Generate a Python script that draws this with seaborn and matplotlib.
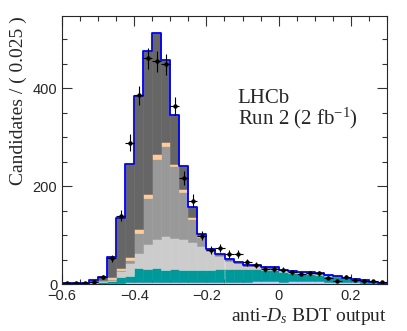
import numpy as np
import pandas as pd
import matplotlib
matplotlib.use("Agg")
import matplotlib.pyplot as plt
from matplotlib.ticker import MultipleLocator
import seaborn as sns

# Bin setup: anti-Ds BDT output, 0.025 wide bins from -0.6 to 0.3
bin_lo, bin_hi, bin_w = -0.6, 0.3, 0.025

# Stacked template components (candidates per bin), bottom to top
olive = [0, 0, 0, 0, 0, 0, 0, 1, 1, 1, 1, 1, 1, 1, 1, 0, 1, 0, 1, 0, 0, 1, 1, 1, 0, 1, 1, 1, 1, 1, 1, 1, 1, 0, 0, 0]
lavender = [1, 1, 1, 1, 1, 2, 3, 3, 3, 3, 3, 3, 3, 4, 4, 4, 4, 4, 4, 5, 5, 5, 5, 5, 5, 5, 5, 5, 5, 4, 4, 4, 3, 3, 2, 1]
teal = [0, 0, 0, 1, 3, 5, 12, 12, 29, 26, 28, 25, 26, 24, 23, 24, 24, 26, 25, 26, 26, 24, 23, 22, 20, 16, 15, 14, 13, 12, 9, 7, 5, 4, 3, 2]
light_grey = [0, 0, 1, 2, 3, 2, 12, 26, 31, 51, 60, 70, 65, 63, 57, 49, 39, 28, 18, 11, 6, 6, 4, 4, 3, 4, 3, 3, 2, 1, 1, 0, 0, 0, 0, 0]
mid_grey = [0, 0, 0, 1, 1, 2, 2, 7, 40, 95, 164, 184, 146, 97, 48, 19, 1, 1, 1, 1, 0, 1, 0, 1, 0, 0, 0, 0, 0, 0, 0, 0, 0, 0, 0, 0]
peach = [0, 0, 0, 0, 1, 3, 4, 6, 8, 8, 9, 7, 5, 5, 4, 3, 1, 1, 1, 0, 0, 0, 0, 0, 0, 0, 0, 0, 0, 0, 0, 0, 0, 0, 0, 0]
dark_grey = [1, 1, 1, 3, 5, 41, 102, 191, 272, 292, 249, 169, 99, 47, 20, 3, 1, 1, 1, 1, 1, 1, 1, 1, 1, 1, 1, 1, 1, 1, 1, 1, 1, 1, 0, 0]

# Data points
data = [3, 3, 3, 5, 14, 53, 140, 289, 386, 462, 455, 449, 364, 217, 170, 99, 70, 73, 61, 61,
        44, 38, 31, 31, 29, 24, 20, 22, 22, 13, 7, 15, 8, 6, 6, 4]

comp_names = ["olive", "lavender", "teal", "light", "mid", "peach", "dark"]
comp_values = [olive, lavender, teal, light_grey, mid_grey, peach, dark_grey]
comp_colors = {"olive": "#8c8c00", "lavender": "#ccccff", "teal": "#009999",
               "light": "#cccccc", "mid": "#999999", "peach": "#ffcc99", "dark": "#666666"}

n_bins = len(data)
edges = bin_lo + bin_w * np.arange(n_bins + 1)
centers = edges[:-1] + bin_w / 2

rows = []
for name, vals in zip(comp_names, comp_values):
    for c, v in zip(centers, vals):
        rows.append({"bdt": c, "n": v, "comp": name})
df = pd.DataFrame(rows)
total = np.sum(np.array(comp_values), axis=0)
df_tot = pd.DataFrame({"bdt": centers, "n": total})

sns.set_style("ticks")
plt.rcParams["font.family"] = ["Liberation Sans", "DejaVu Sans"]
plt.rcParams["mathtext.fontset"] = "custom"
plt.rcParams["mathtext.rm"] = "Liberation Serif"
plt.rcParams["mathtext.it"] = "Liberation Serif:italic"

fig = plt.figure(figsize=(4.07, 3.31), dpi=100)
ax = fig.add_axes([62 / 407, 47 / 331, 325 / 407, 268 / 331])

# seaborn stacks the first hue level on top
sns.histplot(data=df, x="bdt", weights="n", hue="comp", hue_order=comp_names[::-1],
             multiple="stack", binwidth=bin_w, binrange=(bin_lo, bin_hi), element="bars",
             palette=comp_colors, alpha=1, linewidth=0, legend=False, ax=ax)
# close the hairline gaps between neighbouring bars
for p in ax.patches:
    p.set_edgecolor(p.get_facecolor())
    p.set_linewidth(0.4)

# total outline
sns.histplot(data=df_tot, x="bdt", weights="n", binwidth=bin_w, binrange=(bin_lo, bin_hi),
             element="step", fill=False, color="#0000ff", linewidth=1.3, ax=ax)

ax.errorbar(centers, data, yerr=np.sqrt(data), xerr=bin_w / 2, fmt="o", ms=2.2,
            color="black", ecolor="black", elinewidth=0.8, capsize=0)

ax.set_xlim(bin_lo, bin_hi)
ax.set_ylim(0, 548)
ax.xaxis.set_major_locator(MultipleLocator(0.2))
ax.xaxis.set_minor_locator(MultipleLocator(0.05))
ax.yaxis.set_major_locator(MultipleLocator(200))
ax.yaxis.set_minor_locator(MultipleLocator(50))
ax.tick_params(which="both", direction="in", top=True, right=True, labelsize=10.5,
               width=0.8, color="#333333")
ax.tick_params(which="major", length=7)
ax.tick_params(which="minor", length=3.5)
ax.set_xticks([-0.6, -0.4, -0.2, 0, 0.2])
ax.set_xticklabels(["\u22120.6", "\u22120.4", "\u22120.2", "0", "0.2"])
for s in ax.spines.values():
    s.set_linewidth(0.8)

ax.set_xlabel(r"anti-$D_s$ BDT output", family="Liberation Serif", fontsize=14,
              loc="right", labelpad=2)
ax.set_ylabel("Candidates / ( 0.025 )", family="Liberation Serif", fontsize=14,
              loc="top", labelpad=4)

ax.text(0.54, 0.676, "LHCb", transform=ax.transAxes, family="Liberation Serif", fontsize=15)
ax.text(0.54, 0.597, r"Run 2 (2 fb$^{\mathregular{-1}}$)", transform=ax.transAxes,
        family="Liberation Serif", fontsize=15)

fig.savefig("out.png", dpi=100)
